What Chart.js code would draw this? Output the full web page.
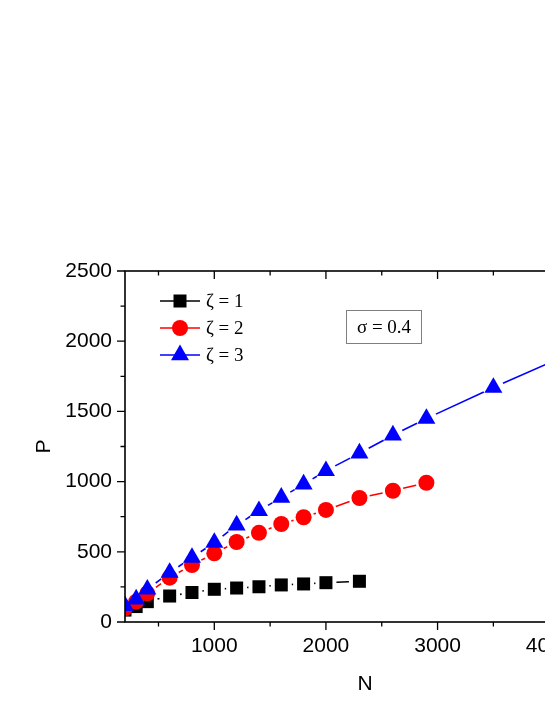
<!DOCTYPE html>
<html>
<head>
<meta charset="utf-8">
<script src="https://cdn.jsdelivr.net/npm/chart.js@4.4.0/dist/chart.umd.min.js"></script>
<style>
    html, body { margin: 0; padding: 0; background: #fff; overflow: hidden; }
    #wrap { position: absolute; left: 0; top: 0; }
</style>
</head>
<body>
<div id="wrap"><canvas id="pChart" width="700" height="705"></canvas></div>
<script>
// --- data ---
const nZeta1 = [200, 300, 400, 600, 800, 1000, 1200, 1400, 1600, 1800, 2000, 2300];
const pZeta1 = [85, 110, 145, 185, 210, 233, 242, 251, 264, 271, 280, 290];

const nZeta2 = [200, 300, 400, 600, 800, 1000, 1200, 1400, 1600, 1800, 2000, 2300, 2600, 2900];
const pZeta2 = [98, 145, 204, 316, 406, 489, 570, 635, 698, 746, 798, 883, 935, 992];

const nZeta3 = [200, 300, 400, 600, 800, 1000, 1200, 1400, 1600, 1800, 2000, 2300, 2600, 2900, 3500, 4500];
const pZeta3 = [115, 162, 233, 352, 459, 565, 689, 792, 887, 981, 1077, 1202, 1330, 1449, 1670, 2020];

const seriesLabels = ['\u03B6 = 1', '\u03B6 = 2', '\u03B6 = 3'];
const sigmaLabel = '\u03C3 = 0.4';
const xTickValues = [500, 1000, 1500, 2000, 2500, 3000, 3500, 4000, 4500];
const yTickValues = [0, 250, 500, 750, 1000, 1250, 1500, 1750, 2000, 2250, 2500];
const xRange = [200, 4500];
const yRange = [0, 2500];

const GAP = 10.5; // Origin-style line gap around each symbol

function toPoints(xs, ys) {
    return xs.map((v, i) => ({ x: v, y: ys[i] }));
}

// solid line with a gap at both ends of every segment
function gapDash(ctx) {
    const len = Math.hypot(ctx.p1.x - ctx.p0.x, ctx.p1.y - ctx.p0.y);
    if (len <= 2 * GAP) return [0, len + 1];
    return [0, GAP, len - 2 * GAP, GAP];
}

const serif = '"Liberation Serif", "Times New Roman", serif';

// frame, ticks, legend and the sigma box
const decorations = {
    id: 'decorations',
    afterDraw(chart) {
        const { ctx, chartArea: a, scales: { x, y } } = chart;
        ctx.save();
        ctx.strokeStyle = '#000';
        ctx.lineWidth = 1.6;
        ctx.strokeRect(a.left, a.top, a.right - a.left, a.bottom - a.top);

        ctx.lineWidth = 1.3;
        ctx.beginPath();
        x.ticks.forEach(t => {
            const px = x.getPixelForValue(t.value);
            const len = t.value % 1000 === 0 ? 8 : 4.5;
            ctx.moveTo(px, a.bottom); ctx.lineTo(px, a.bottom + len);
            ctx.moveTo(px, a.top); ctx.lineTo(px, a.top + len);
        });
        y.ticks.forEach(t => {
            const py = y.getPixelForValue(t.value);
            const len = t.value % 500 === 0 ? 8 : 4.5;
            ctx.moveTo(a.left, py); ctx.lineTo(a.left - len, py);
            ctx.moveTo(a.right, py); ctx.lineTo(a.right - len, py);
        });
        ctx.stroke();

        // legend
        chart.data.datasets.forEach((ds, i) => {
            const ly = a.top + 30 + i * 27;
            const lx = a.left + 35;
            ctx.strokeStyle = ds.borderColor;
            ctx.lineWidth = ds.borderWidth;
            ctx.beginPath();
            ctx.moveTo(lx, ly); ctx.lineTo(lx + 40, ly);
            ctx.stroke();
            ctx.fillStyle = ds.pointBackgroundColor;
            Chart.helpers.drawPoint(ctx, {
                pointStyle: ds.pointStyle, radius: ds.pointRadius, rotation: 0, borderWidth: 0
            }, lx + 20, ly);
            ctx.fillStyle = '#000';
            ctx.font = '19px ' + serif;
            ctx.textBaseline = 'middle';
            ctx.textAlign = 'left';
            ctx.fillText(ds.label, lx + 46, ly + 1);
        });

        // sigma box
        ctx.strokeStyle = '#7f7f7f';
        ctx.lineWidth = 1;
        ctx.strokeRect(346.5, 310.5, 75, 33);
        ctx.fillStyle = '#000';
        ctx.font = '19px ' + serif;
        ctx.textAlign = 'center';
        ctx.textBaseline = 'middle';
        ctx.fillText(sigmaLabel, 384, 328);
        ctx.restore();
    }
};

function lineSet(label, xs, ys, color, style, radius, order) {
    return {
        label: label,
        data: toPoints(xs, ys),
        borderColor: color,
        backgroundColor: color,
        pointBackgroundColor: color,
        pointBorderWidth: 0,
        borderWidth: 1.6,
        pointStyle: style,
        pointRadius: radius,
        pointHoverRadius: radius,
        tension: 0,
        order: order,
        segment: { borderDash: gapDash }
    };
}

Chart.defaults.font.family = '"Liberation Sans", Arial, sans-serif';
Chart.defaults.color = '#000';

const pChart = new Chart(document.getElementById('pChart').getContext('2d'), {
    type: 'line',
    data: {
        datasets: [
            lineSet(seriesLabels[0], nZeta1, pZeta1, '#000000', 'rect', 9.2, 3),
            lineSet(seriesLabels[1], nZeta2, pZeta2, '#ff0000', 'circle', 8, 2),
            lineSet(seriesLabels[2], nZeta3, pZeta3, '#0000ff', 'triangle', 10.4, 1)
        ]
    },
    options: {
        responsive: false,
        animation: false,
        layout: { padding: { top: 271, left: 28, right: 95, bottom: 4 } },
        plugins: { legend: { display: false }, tooltip: { enabled: false } },
        scales: {
            x: {
                type: 'linear',
                min: xRange[0], max: xRange[1],
                grid: { display: false, drawTicks: false },
                border: { display: false },
                afterBuildTicks: s => { s.ticks = xTickValues.map(v => ({ value: v })); },
                ticks: {
                    autoSkip: false,
                    maxRotation: 0,
                    padding: 12,
                    font: { size: 21 },
                    callback: v => (v % 1000 === 0 ? v : '')
                },
                title: { display: true, text: 'N', font: { size: 21 } },
                afterFit: s => { s.height = 79; }
            },
            y: {
                min: yRange[0], max: yRange[1],
                grid: { display: false, drawTicks: false },
                border: { display: false },
                afterBuildTicks: s => { s.ticks = yTickValues.map(v => ({ value: v })); },
                ticks: {
                    autoSkip: false,
                    padding: 13,
                    font: { size: 21 },
                    callback: v => (v % 500 === 0 ? v : '')
                },
                title: { display: true, text: 'P', font: { size: 21 } },
                afterFit: s => { s.width = 97; }
            }
        }
    },
    plugins: [decorations]
});
</script>
</body>
</html>
